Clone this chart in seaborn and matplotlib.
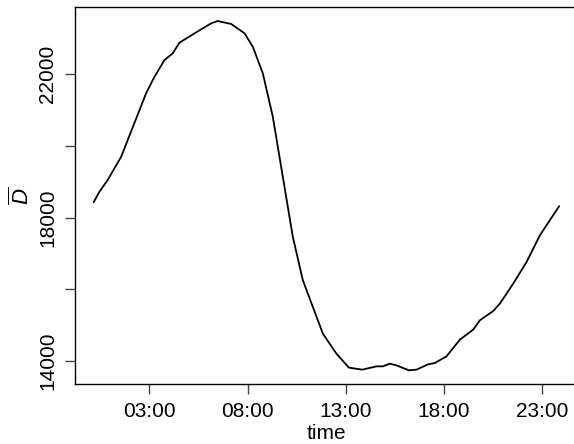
import matplotlib
matplotlib.use("Agg")
import matplotlib.pyplot as plt
import seaborn as sns
import pandas as pd
from matplotlib.ticker import FuncFormatter

# time of day in hours and mean demand
hours = [0.16, 0.45, 0.87, 1.56, 2.23, 2.83, 3.26, 3.77, 4.19, 4.53, 5.30, 6.15,
         6.48, 7.17, 7.85, 8.27, 8.78, 9.29, 9.80, 10.31, 10.82, 11.33, 11.84,
         12.53, 13.17, 13.85, 14.57, 14.90, 15.24, 15.59, 16.23, 16.61, 17.20,
         17.54, 18.14, 18.82, 19.50, 19.84, 20.52, 20.86, 21.54, 22.22, 22.90, 23.88]
demand = [18425, 18715, 19042, 19692, 20624, 21461, 21925, 22391, 22578, 22874,
          23136, 23415, 23479, 23396, 23136, 22762, 22020, 20808, 19134, 17459,
          16250, 15505, 14763, 14204, 13814, 13758, 13850, 13850, 13925, 13878,
          13739, 13758, 13906, 13942, 14129, 14595, 14874, 15134, 15394, 15600,
          16158, 16761, 17506, 18316]

x_ticks = [3, 8, 13, 18, 23]
y_ticks = [14000, 16000, 18000, 20000, 22000]
y_tick_labels = ["14000", "", "18000", "", "22000"]

sns.set_style("ticks")
plt.rcParams["font.family"] = ["Liberation Sans", "DejaVu Sans"]
plt.rcParams["mathtext.fontset"] = "custom"
plt.rcParams["mathtext.it"] = "Liberation Sans:italic"
plt.rcParams["mathtext.rm"] = "Liberation Sans"
plt.rcParams["text.color"] = "black"
plt.rcParams["axes.labelcolor"] = "black"
plt.rcParams["xtick.color"] = "black"
plt.rcParams["ytick.color"] = "black"

df = pd.DataFrame({"time": hours, "D": demand})

fig = plt.figure(figsize=(5.74, 4.44), dpi=100)
ax = fig.add_axes([75 / 574, 1 - 384 / 444, 503 / 574, 377 / 444])
sns.lineplot(data=df, x="time", y="D", ax=ax, color="black", linewidth=1.3)

ax.set_xlim(-0.79, 24.84)
ax.set_ylim(13358, 23870)
ax.set_xticks(x_ticks)
ax.xaxis.set_major_formatter(FuncFormatter(lambda v, p: f"{int(round(v)):02d}:00"))
ax.set_yticks(y_ticks)
ax.set_yticklabels(y_tick_labels, rotation=90, va="center")

for s in ax.spines.values():
    s.set_visible(True)
    s.set_linewidth(1.0)
    s.set_color("black")

ax.tick_params(axis="both", direction="out", length=7, width=1.0, color="#444444",
               labelcolor="black", labelsize=15, pad=6)
ax.set_xlabel("time", fontsize=15, labelpad=2)
ax.set_ylabel(r"$\overline{D}$", fontsize=16, labelpad=3)

fig.savefig("out.png", dpi=100)
